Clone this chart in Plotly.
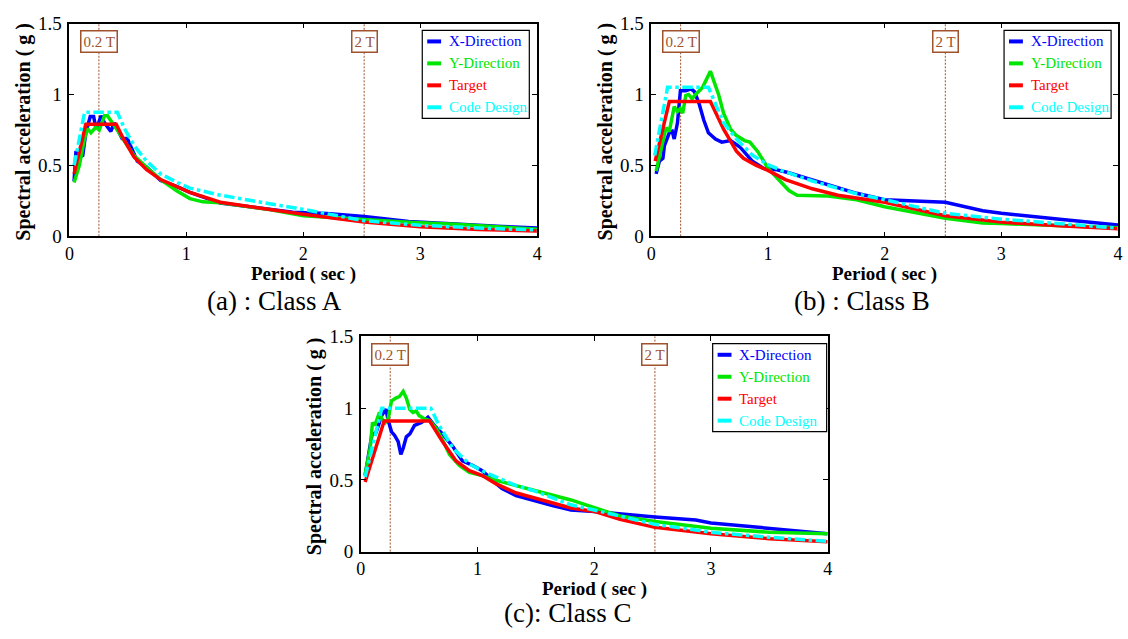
import plotly.graph_objects as go

W, H = 1128, 639
FONT = "Liberation Serif, Times New Roman, serif"

# ---- Class A spectra (period in sec, spectral acceleration in g) ----
a_xdir_T = [0.04, 0.056, 0.09, 0.114, 0.14, 0.178, 0.207, 0.227, 0.25, 0.27, 0.30, 0.325, 0.354, 0.383,
            0.41, 0.45, 0.495, 0.552, 0.58, 0.66, 0.78, 0.92, 1.03, 1.29, 1.43, 1.71, 1.91, 2.2, 2.52,
            2.9, 3.3, 3.7, 4.0]
a_xdir_Sa = [0.39, 0.60, 0.56, 0.57, 0.73, 0.845, 0.845, 0.76, 0.80, 0.85, 0.80, 0.77, 0.74, 0.80,
             0.76, 0.69, 0.69, 0.59, 0.53, 0.487, 0.394, 0.35, 0.31, 0.234, 0.22, 0.19, 0.17, 0.16, 0.14,
             0.104, 0.085, 0.07, 0.058]
a_ydir_T = [0.04, 0.085, 0.127, 0.155, 0.184, 0.227, 0.255, 0.30, 0.325, 0.37, 0.425, 0.495, 0.552,
            0.66, 0.78, 0.92, 1.03, 1.14, 1.29, 1.43, 1.71, 2.0, 2.52, 2.9, 3.3, 3.7, 4.0]
a_ydir_Sa = [0.38, 0.50, 0.68, 0.76, 0.73, 0.77, 0.75, 0.85, 0.85, 0.80, 0.73, 0.64, 0.57,
             0.487, 0.40, 0.32, 0.266, 0.243, 0.236, 0.22, 0.188, 0.145, 0.117, 0.10, 0.085, 0.065, 0.05]
a_target_T = [0.04, 0.14, 0.40, 0.46, 0.552, 0.66, 0.78, 0.92, 1.03, 1.29, 1.71, 2.0, 2.52, 3.0, 3.5, 4.0]
a_target_Sa = [0.44, 0.79, 0.79, 0.69, 0.56, 0.47, 0.40, 0.35, 0.31, 0.24, 0.19, 0.155, 0.10, 0.067,
               0.048, 0.037]
a_code_T = [0.04, 0.13, 0.41, 0.47, 0.552, 0.66, 0.78, 0.92, 1.03, 1.29, 1.71, 2.0, 2.52, 3.0, 3.5, 4.0]
a_code_Sa = [0.50, 0.875, 0.875, 0.76, 0.64, 0.53, 0.44, 0.38, 0.34, 0.29, 0.23, 0.19, 0.11, 0.078,
             0.058, 0.045]

# ---- Class B spectra ----
b_xdir_T = [0.042, 0.07, 0.10, 0.113, 0.155, 0.18, 0.197, 0.225, 0.25, 0.296, 0.34, 0.37, 0.41, 0.45,
            0.49, 0.55, 0.605, 0.68, 0.76, 0.87, 0.96, 1.07, 1.17, 1.45, 1.76, 2.0, 2.3, 2.52, 2.84,
            3.0, 3.5, 4.0]
b_xdir_Sa = [0.44, 0.53, 0.55, 0.64, 0.73, 0.74, 0.686, 0.80, 1.027, 1.027, 1.04, 1.02, 0.936, 0.82,
             0.73, 0.686, 0.664, 0.675, 0.63, 0.527, 0.48, 0.47, 0.45, 0.38, 0.303, 0.258, 0.25, 0.24,
             0.18, 0.162, 0.12, 0.08]
b_ydir_T = [0.042, 0.085, 0.11, 0.127, 0.155, 0.18, 0.197, 0.225, 0.248, 0.27, 0.296, 0.32, 0.35, 0.38,
            0.44, 0.507, 0.577, 0.62, 0.68, 0.73, 0.80, 0.845, 0.915, 1.0, 1.1, 1.18, 1.25, 1.5, 1.76,
            2.0, 2.52, 2.84, 3.0, 3.5, 4.0]
b_ydir_Sa = [0.46, 0.62, 0.71, 0.766, 0.74, 0.834, 0.914, 0.88, 0.90, 0.868, 0.993, 1.0, 0.97, 1.0,
             1.05, 1.164, 1.0, 0.868, 0.755, 0.71, 0.675, 0.664, 0.595, 0.48, 0.39, 0.323, 0.29, 0.285,
             0.258, 0.208, 0.128, 0.094, 0.09, 0.075, 0.06]
b_target_T = [0.034, 0.155, 0.507, 0.62, 0.73, 0.79, 0.90, 1.0, 1.15, 1.38, 1.6, 1.76, 2.0, 2.52, 3.0,
              3.5, 4.0]
b_target_Sa = [0.53, 0.95, 0.95, 0.755, 0.60, 0.55, 0.50, 0.465, 0.40, 0.335, 0.29, 0.27, 0.24, 0.145,
               0.10, 0.075, 0.053]
b_code_T = [0.03, 0.14, 0.49, 0.62, 0.73, 0.87, 1.0, 1.13, 1.38, 1.76, 2.0, 2.52, 3.0, 3.5, 4.0]
b_code_Sa = [0.57, 1.05, 1.05, 0.80, 0.686, 0.57, 0.505, 0.46, 0.39, 0.30, 0.258, 0.162, 0.121, 0.09,
             0.058]

# ---- Class C spectra ----
c_xdir_T = [0.037, 0.094, 0.13, 0.18, 0.215, 0.235, 0.263, 0.29, 0.32, 0.343, 0.363, 0.39, 0.42, 0.46,
            0.52, 0.575, 0.63, 0.70, 0.79, 0.87, 0.96, 1.04, 1.16, 1.21, 1.33, 1.5, 1.65, 1.8, 2.0, 2.52,
            2.87, 3.0, 3.5, 4.0]
c_xdir_Sa = [0.53, 0.81, 0.83, 0.95, 0.993, 0.914, 0.835, 0.81, 0.767, 0.677, 0.72, 0.80, 0.82, 0.88,
             0.90, 0.937, 0.88, 0.82, 0.73, 0.632, 0.60, 0.564, 0.474, 0.44, 0.39, 0.35, 0.32, 0.29,
             0.28, 0.241, 0.22, 0.20, 0.16, 0.124]
c_ydir_T = [0.037, 0.08, 0.10, 0.12, 0.14, 0.16, 0.18, 0.21, 0.235, 0.263, 0.30, 0.33, 0.363, 0.39,
            0.42, 0.447, 0.475, 0.50, 0.547, 0.59, 0.646, 0.70, 0.76, 0.844, 0.93, 1.04, 1.16, 1.33,
            1.53, 1.8, 2.0, 2.22, 2.52, 3.0, 3.5, 4.0]
c_ydir_Sa = [0.54, 0.72, 0.90, 0.88, 0.925, 0.97, 0.925, 0.90, 0.93, 1.05, 1.07, 1.08, 1.117, 1.07,
             0.99, 0.97, 0.98, 0.948, 0.925, 0.914, 0.858, 0.78, 0.677, 0.60, 0.553, 0.53, 0.497, 0.463,
             0.417, 0.36, 0.309, 0.248, 0.21, 0.162, 0.135, 0.124]
c_target_T = [0.037, 0.20, 0.59, 0.70, 0.816, 0.93, 1.04, 1.156, 1.326, 1.5, 1.8, 2.0, 2.22, 2.52, 3.0,
              3.5, 4.0]
c_target_Sa = [0.485, 0.91, 0.91, 0.767, 0.632, 0.564, 0.53, 0.474, 0.41, 0.37, 0.304, 0.28, 0.225,
               0.169, 0.124, 0.09, 0.068]
c_code_T = [0.037, 0.11, 0.18, 0.60, 0.67, 0.79, 0.93, 1.1, 1.33, 1.5, 1.8, 2.0, 2.52, 3.0, 3.5, 4.0]
c_code_Sa = [0.52, 0.77, 1.0, 1.0, 0.88, 0.72, 0.61, 0.54, 0.46, 0.42, 0.326, 0.29, 0.19, 0.135, 0.10,
             0.072]

series_names = ["X-Direction", "Y-Direction", "Target", "Code Design"]
series_colors = ["#0000ff", "#00e600", "#ff0000", "#00ffff"]
series_dash = ["solid", "solid", "solid", "dashdot"]

marker_periods = [0.252, 2.52]
marker_labels = ["0.2 T", "2 T"]
x_ticks = [0, 1, 2, 3, 4]
y_ticks = [0, 0.5, 1, 1.5]
y_tick_text = ["0", "0.5", "1", "1.5"]
captions = ["(a) : Class A", "(b) : Class B", "(c): Class C"]

panels = [
    [(a_xdir_T, a_xdir_Sa), (a_ydir_T, a_ydir_Sa), (a_target_T, a_target_Sa), (a_code_T, a_code_Sa)],
    [(b_xdir_T, b_xdir_Sa), (b_ydir_T, b_ydir_Sa), (b_target_T, b_target_Sa), (b_code_T, b_code_Sa)],
    [(c_xdir_T, c_xdir_Sa), (c_ydir_T, c_ydir_Sa), (c_target_T, c_target_Sa), (c_code_T, c_code_Sa)],
]

# plot-area boxes in pixels: left, right, top, bottom
boxes = [(65, 537, 14, 234), (652, 1123, 14, 234), (359, 830, 337.5, 560)]
caption_pos = [(272, 301), (865, 301), (568, 624)]
legend_pos = [(421, 21, 108), (1008, 21, 108), (714, 345, 115)]


def fx(p):
    return p / W


def fy(p):
    return 1 - p / H


fig = go.Figure()
shapes, annotations = [], []
layout_axes = {}

for i, (series, box) in enumerate(zip(panels, boxes)):
    sfx = "" if i == 0 else str(i + 1)
    xa, ya = "x" + sfx, "y" + sfx
    left, right, top, bottom = box
    for (T, Sa), name, col, dash in zip(series, series_names, series_colors, series_dash):
        fig.add_trace(go.Scatter(x=T, y=Sa, mode="lines", name=name, showlegend=False,
                                 line=dict(color=col, width=3.5, dash=dash),
                                 xaxis=xa, yaxis=ya))
    axis_common = dict(showgrid=False, zeroline=False, showline=True, linecolor="black",
                       linewidth=1.5, mirror="allticks", ticks="inside", ticklen=5,
                       tickcolor="black", tickwidth=1.2,
                       tickfont=dict(family=FONT, size=19, color="black"))
    layout_axes["xaxis" + sfx] = dict(axis_common, domain=[fx(left), fx(right)], range=[0, 4],
                                      tickvals=x_ticks, anchor=ya,
                                      tickfont=dict(family=FONT, size=18, color="black"))
    layout_axes["yaxis" + sfx] = dict(axis_common, domain=[fy(bottom), fy(top)], range=[0, 1.5],
                                      tickvals=y_ticks, ticktext=y_tick_text, anchor=xa,
                                      ticklabelstandoff=2)

    # 0.2T and 2T reference lines with boxed labels
    for per, lab in zip(marker_periods, marker_labels):
        shapes.append(dict(type="line", xref=xa, yref=ya + " domain", x0=per, x1=per, y0=0, y1=1,
                           line=dict(color="#a0522d", width=1, dash="2px,1.5px"), layer="below"))
        annotations.append(dict(x=per, y=1.375, xref=xa, yref=ya, text=lab, showarrow=False,
                                font=dict(family=FONT, size=15, color="#a0522d"),
                                bgcolor="white", bordercolor="#a0522d", borderwidth=1.5,
                                borderpad=2, xanchor="center", yanchor="middle"))

    # axis titles
    cx = (left + right) / 2
    annotations.append(dict(x=fx(cx), y=fy(bottom + 39), xref="paper", yref="paper",
                            text="<b>Period ( sec )</b>", showarrow=False,
                            font=dict(family=FONT, size=19, color="black"),
                            xanchor="center", yanchor="middle"))
    annotations.append(dict(x=fx(left - 46), y=fy((top + bottom) / 2 + 2), xref="paper", yref="paper",
                            text="<b>Spectral acceleration ( g )</b>", showarrow=False, textangle=-90,
                            font=dict(family=FONT, size=20, color="black"),
                            xanchor="center", yanchor="middle"))
    # caption
    capx, capy = caption_pos[i]
    annotations.append(dict(x=fx(capx), y=fy(capy), xref="paper", yref="paper", text=captions[i],
                            showarrow=False, font=dict(family=FONT, size=27, color="black"),
                            xanchor="center", yanchor="middle"))

    # legend box
    lx, ly, lw = legend_pos[i]
    shapes.append(dict(type="rect", xref="paper", yref="paper", x0=fx(lx), x1=fx(lx + lw),
                       y0=fy(ly), y1=fy(ly + 91), line=dict(color="black", width=1.2),
                       fillcolor="white", layer="above"))
    for k, (name, col) in enumerate(zip(series_names, series_colors)):
        ry = ly + 11.5 + k * 22.7
        shapes.append(dict(type="line", xref="paper", yref="paper", x0=fx(lx + 5), x1=fx(lx + 19),
                           y0=fy(ry), y1=fy(ry), line=dict(color=col, width=4), layer="above"))
        annotations.append(dict(x=fx(lx + 25), y=fy(ry), xref="paper", yref="paper", text=name,
                                showarrow=False, font=dict(family=FONT, size=15, color=col),
                                xanchor="left", yanchor="middle"))

fig.update_layout(width=W, height=H, autosize=False, margin=dict(l=0, r=0, t=0, b=0),
                  paper_bgcolor="white", plot_bgcolor="white", showlegend=False,
                  shapes=shapes, annotations=annotations, **layout_axes)

fig.write_html("out.html")
